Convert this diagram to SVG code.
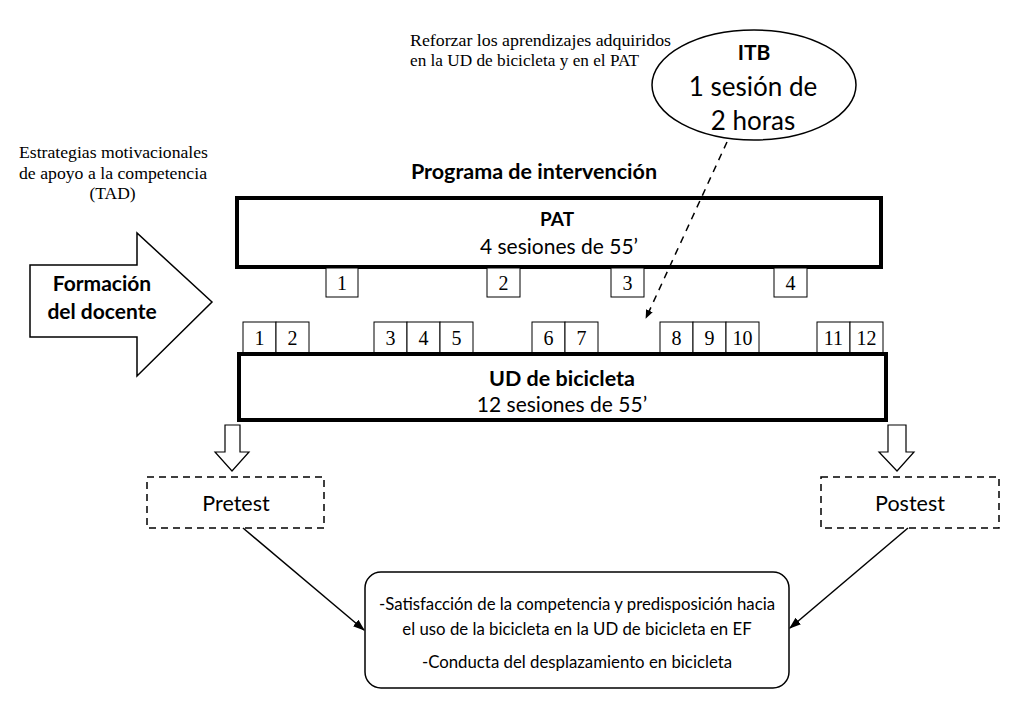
<svg xmlns="http://www.w3.org/2000/svg" width="1027" height="706" viewBox="0 0 1027 706">
<defs>
<style>
.sans{font-family:Lato,"Open Sans",sans-serif;fill:#000}
.serif{font-family:"Liberation Serif",serif;fill:#000}
.b{font-weight:bold}
.num{font-family:"Liberation Serif",serif;font-size:20px;text-anchor:middle;fill:#000}
.sbox{fill:#fff;stroke:#000;stroke-width:1}
.big{fill:#fff;stroke:#000;stroke-width:4}
.line{stroke:#000;stroke-width:1.5;fill:none}
</style>
<marker id="ah" viewBox="0 0 10 10" refX="9" refY="5" markerWidth="9" markerHeight="9" orient="auto" markerUnits="userSpaceOnUse">
<path d="M0,1 L10,5 L0,9 Z" fill="#000"/>
</marker>
<marker id="ah2" viewBox="0 0 10 10" refX="9" refY="5" markerWidth="12" markerHeight="12" orient="auto" markerUnits="userSpaceOnUse">
<path d="M0,1.5 L10,5 L0,8.5 Z" fill="#000"/>
</marker>
</defs>
<rect width="1027" height="706" fill="#fff"/>

<g id="notes">
<text class="serif" font-size="17.5" x="410" y="46" textLength="261" lengthAdjust="spacingAndGlyphs">Reforzar los aprendizajes adquiridos</text>
<text class="serif" font-size="17.5" x="410" y="66" textLength="229" lengthAdjust="spacingAndGlyphs">en la UD de bicicleta y en el PAT</text>
<text class="serif" font-size="17.5" x="19" y="158" textLength="189" lengthAdjust="spacingAndGlyphs">Estrategias motivacionales</text>
<text class="serif" font-size="17.5" x="19" y="179" textLength="188" lengthAdjust="spacingAndGlyphs">de apoyo a la competencia</text>
<text class="serif" font-size="17.5" x="112.5" y="199" text-anchor="middle">(TAD)</text>
<text class="sans b" font-size="21.5" x="534" y="179" text-anchor="middle">Programa de intervención</text>
</g>

<g id="itb">
<ellipse cx="754" cy="85" rx="102" ry="55" fill="#fff" stroke="#000" stroke-width="1.5"/>
<text class="sans b" font-size="21" x="754" y="60" text-anchor="middle">ITB</text>
<text class="sans" font-size="26" x="753" y="96" text-anchor="middle">1 sesión de</text>
<text class="sans" font-size="26" x="753" y="130" text-anchor="middle">2 horas</text>
</g>

<g id="formacion">
<path d="M30,265 L137,265 L137,233 L212,302 L137,376 L137,337 L30,337 Z" fill="#fff" stroke="#000" stroke-width="1.5"/>
<text class="sans b" font-size="21" x="102" y="291" text-anchor="middle">Formación</text>
<text class="sans b" font-size="21" x="102" y="319" text-anchor="middle">del docente</text>
</g>

<g id="pat">
<rect class="big" x="237" y="198" width="644" height="69"/>
<text class="sans b" font-size="19" x="557" y="226" text-anchor="middle">PAT</text>
<text class="sans" font-size="21" x="559" y="254" text-anchor="middle">4 sesiones de 55’</text>
</g>

<g id="pat-sessions">
<rect class="sbox" x="326" y="268" width="32" height="29"/><text class="num" x="342" y="290">1</text>
<rect class="sbox" x="487" y="268" width="33" height="29"/><text class="num" x="503.5" y="290">2</text>
<rect class="sbox" x="611" y="268" width="33" height="29"/><text class="num" x="627.5" y="290">3</text>
<rect class="sbox" x="774" y="268" width="33" height="29"/><text class="num" x="790.5" y="290">4</text>
</g>

<g id="ud-sessions">
<rect class="sbox" x="243" y="322" width="33" height="31"/><text class="num" x="259.5" y="345">1</text>
<rect class="sbox" x="276" y="322" width="33" height="31"/><text class="num" x="292.5" y="345">2</text>
<rect class="sbox" x="374" y="322" width="33" height="31"/><text class="num" x="390.5" y="345">3</text>
<rect class="sbox" x="407" y="322" width="33" height="31"/><text class="num" x="423.5" y="345">4</text>
<rect class="sbox" x="440" y="322" width="33" height="31"/><text class="num" x="456.5" y="345">5</text>
<rect class="sbox" x="532" y="322" width="33" height="31"/><text class="num" x="548.5" y="345">6</text>
<rect class="sbox" x="565" y="322" width="33" height="31"/><text class="num" x="581.5" y="345">7</text>
<rect class="sbox" x="660" y="322" width="33" height="31"/><text class="num" x="676.5" y="345">8</text>
<rect class="sbox" x="693" y="322" width="33" height="31"/><text class="num" x="709.5" y="345">9</text>
<rect class="sbox" x="726" y="322" width="33" height="31"/><text class="num" x="742.5" y="345">10</text>
<rect class="sbox" x="817" y="322" width="33" height="31"/><text class="num" x="833.5" y="345">11</text>
<rect class="sbox" x="850" y="322" width="33" height="31"/><text class="num" x="866.5" y="345">12</text>
</g>

<g id="ud">
<rect class="big" x="239" y="354" width="647" height="66"/>
<text class="sans b" font-size="21.5" x="562" y="386" text-anchor="middle">UD de bicicleta</text>
<text class="sans" font-size="21" x="562" y="412" text-anchor="middle">12 sesiones de 55’</text>
</g>

<g id="pretest">
<rect x="147" y="477" width="177" height="51" fill="#fff" stroke="#000" stroke-width="1.5" stroke-dasharray="7,5"/>
<text class="sans" font-size="21.5" x="236" y="511" text-anchor="middle">Pretest</text>
</g>

<g id="postest">
<rect x="821" y="477" width="178" height="51" fill="#fff" stroke="#000" stroke-width="1.5" stroke-dasharray="7,5"/>
<text class="sans" font-size="21.5" x="910" y="511" text-anchor="middle">Postest</text>
</g>

<g id="resultados">
<rect x="365" y="572" width="424" height="116" rx="16" ry="16" fill="#fff" stroke="#000" stroke-width="1.5"/>
<text class="sans" font-size="16.8" x="577" y="610" text-anchor="middle">-Satisfacción de la competencia y predisposición hacia</text>
<text class="sans" font-size="16.8" x="577" y="635" text-anchor="middle">el uso de la bicicleta en la UD de bicicleta en EF</text>
<text class="sans" font-size="16.8" x="577" y="668" text-anchor="middle">-Conducta del desplazamiento en bicicleta</text>
</g>

<g id="connectors">
<path d="M225,425 L240,425 L240,452 L249,452 L232,471 L215,452 L225,452 Z" fill="#fff" stroke="#000" stroke-width="1.2"/>
<path d="M888,425 L906,425 L906,452 L914,452 L897,471 L879,452 L888,452 Z" fill="#fff" stroke="#000" stroke-width="1.2"/>
<line class="line" x1="727" y1="142" x2="646" y2="318" stroke-dasharray="7,6" marker-end="url(#ah)"/>
<line class="line" x1="243" y1="528" x2="364" y2="630" marker-end="url(#ah2)"/>
<line class="line" x1="908" y1="528" x2="790" y2="628" marker-end="url(#ah2)"/>
</g>
</svg>
